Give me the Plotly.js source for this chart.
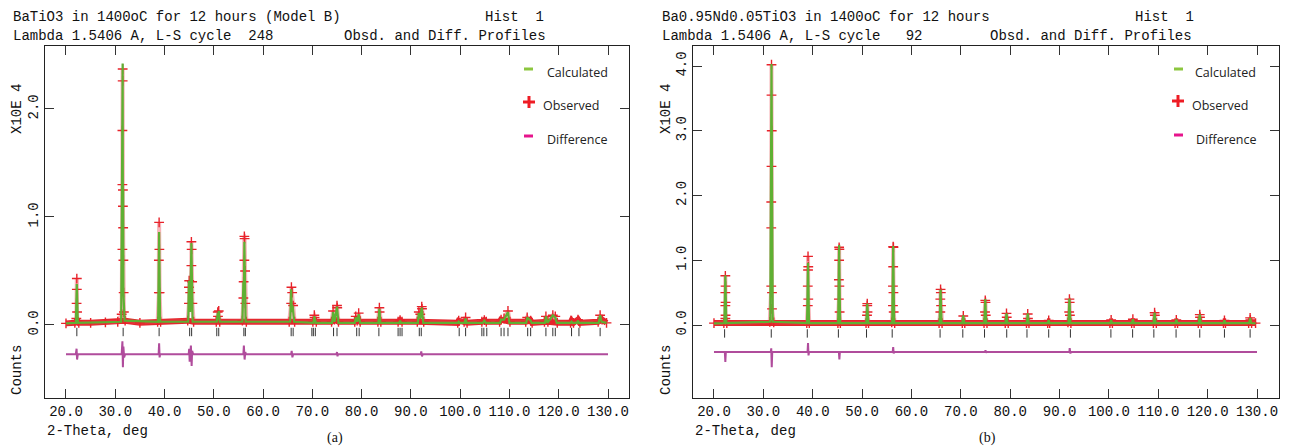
<!DOCTYPE html>
<html><head><meta charset="utf-8">
<script src="https://cdn.plot.ly/plotly-3.0.1.min.js"></script>
<style>html,body{margin:0;padding:0;background:#fff}#chart{width:1292px;height:447px}</style>
</head><body><div id="chart"></div>
<script>
// ---------- Panel (a): BaTiO3 ----------
const xTicks = [20,30,40,50,60,70,80,90,100,110,120,130];
const xTickText = ['20.0','30.0','40.0','50.0','60.0','70.0','80.0','90.0','100.0','110.0','120.0','130.0'];
const yTicksA = [0,1,2];
const yTickTextA = ['0.0','1.0','2.0'];
const yTicksB = [0,1,2,3,4];
const yTickTextB = ['0.0','1.0','2.0','3.0','4.0'];

const obsX_a = [20.0,21.8, 22.1,22.15,22.2,22.2,22.25,22.3, 22.6,25.0,28.0,30.5,
  31.3,31.45,31.45,31.45,31.5,31.5,31.55,31.55,31.6,31.65,31.7,31.75,32.0, 35.0,
  38.6,38.85,38.85,38.9,38.95,39.0,39.2,
  44.7,44.95,44.95,45.0,45.2,45.45,45.45,45.5,45.6,45.65,45.9,
  50.5,50.8,50.85,51.0,51.2,
  55.8,56.0,56.05,56.2,56.2,56.25,56.35,56.4,56.6,
  65.3,65.7,65.75,65.9,66.1,66.4,
  70.1,70.4,70.45,70.8,
  73.9,74.2,74.5,75.0,75.05,75.3,
  78.6,78.8,79.1,79.4,79.7,
  83.3,83.6,83.65,83.9,
  87.4,87.8,88.2,
  91.3,91.6,91.9,92.2,92.25,92.6,
  99.5,99.7,100.8,101.1,101.4,
  104.4,104.9,105.3,
  108.0,108.3,108.9,109.7,110.1,
  113.3,113.6,114.3,114.6,
  117.1,117.4,117.8,118.8,119.3,119.7,
  122.4,122.6,123.0,123.9,124.3,
  128.0,128.4,128.8,129.7];
const obsY_a = [0.015,0.02, 0.06,0.2,0.43,0.33,0.12,0.04, 0.02,0.02,0.025,0.03,
  0.1,0.7,1.3,1.8,2.37,2.26,1.25,1.1,0.9,0.6,0.3,0.12,0.04, 0.02,
  0.03,0.3,0.6,0.95,0.7,0.3,0.03,
  0.04,0.2,0.35,0.41,0.3,0.55,0.77,0.7,0.4,0.2,0.03,
  0.03,0.12,0.08,0.13,0.03,
  0.04,0.25,0.4,0.6,0.82,0.8,0.5,0.2,0.03,
  0.03,0.2,0.35,0.3,0.18,0.03,
  0.03,0.09,0.07,0.03,
  0.03,0.13,0.05,0.18,0.16,0.03,
  0.03,0.08,0.04,0.11,0.03,
  0.03,0.16,0.12,0.03,
  0.03,0.045,0.03,
  0.03,0.12,0.1,0.17,0.15,0.03,
  0.02,0.04,0.03,0.07,0.02,
  0.03,0.045,0.03,
  0.03,0.05,0.06,0.13,0.03,
  0.03,0.07,0.04,0.02,
  0.03,0.08,0.03,0.09,0.08,0.02,
  0.02,0.04,0.02,0.05,0.02,
  0.03,0.09,0.05,0.02];

const calcX_a = [20.0,22.0,22.2,22.4,
  31.2,31.5,31.55,31.6,31.65,31.9,
  38.7,38.9,39.1,
  44.8,44.95,45.2,45.45,45.7,
  50.6,50.8,50.9,51.0,51.2,
  55.8,56.0,56.1,56.2,56.45,
  65.5,65.7,65.85,66.0,66.3,
  70.2,70.4,70.7,
  74.0,74.2,74.5,75.0,75.3,
  78.6,78.8,79.1,79.4,79.7,
  83.4,83.6,83.8,
  87.6,87.8,88.0,
  91.4,91.6,91.9,92.2,92.5,
  99.5,99.7,99.9,100.9,101.1,101.3,
  104.6,104.9,105.2,
  108.1,108.3,108.9,109.7,110.0,
  113.4,113.6,114.3,114.5,
  117.2,117.4,117.7,118.8,119.3,119.6,
  122.4,122.6,122.8,123.7,123.9,124.1,
  128.1,128.4,128.7,129.7];
const calcY_a = [0.015,0.02,0.38,0.02,
  0.03,2.42,0.9,1.26,0.3,0.04,
  0.03,0.86,0.03,
  0.03,0.41,0.12,0.76,0.03,
  0.03,0.11,0.06,0.13,0.03,
  0.03,0.40,0.25,0.77,0.03,
  0.03,0.33,0.12,0.18,0.03,
  0.02,0.08,0.02,
  0.02,0.12,0.03,0.17,0.02,
  0.02,0.07,0.03,0.10,0.02,
  0.02,0.15,0.02,
  0.02,0.04,0.02,
  0.02,0.11,0.06,0.16,0.02,
  0.02,0.03,0.02,0.02,0.06,0.02,
  0.02,0.04,0.02,
  0.02,0.05,0.05,0.12,0.02,
  0.02,0.07,0.04,0.02,
  0.02,0.08,0.02,0.09,0.07,0.02,
  0.02,0.03,0.02,0.02,0.04,0.02,
  0.02,0.09,0.03,0.02];

const diffX_a = [20.0,22.0,22.15,22.25,22.4,31.3,31.45,31.55,31.65,31.8,32.0,
  38.8,38.9,39.0,39.1,44.9,45.0,45.1,45.35,45.5,45.6,45.8,
  56.0,56.1,56.25,56.4,56.5,65.7,65.8,65.95,66.1,74.9,75.0,75.1,75.2,
  92.0,92.1,92.25,92.4,130.0];
const diffY_a = [-0.27,-0.27,-0.22,-0.32,-0.27,-0.27,-0.15,-0.39,-0.2,-0.3,-0.27,
  -0.27,-0.17,-0.3,-0.27,-0.27,-0.22,-0.34,-0.19,-0.38,-0.24,-0.27,
  -0.27,-0.19,-0.32,-0.25,-0.27,-0.27,-0.24,-0.3,-0.27,-0.27,-0.25,-0.29,-0.27,
  -0.27,-0.245,-0.29,-0.27,-0.27];

const reflA = [22.2,31.6,38.9,45.1,45.5,50.6,51.0,56.1,56.4,65.7,66.1,69.9,70.2,70.6,
  74.3,75.0,79.0,79.5,83.5,87.4,87.8,88.2,91.7,92.1,99.8,101.1,104.4,104.8,105.4,
  108.3,108.9,109.7,113.7,114.3,117.4,118.8,119.3,122.6,124.1,128.4];

// ---------- Panel (b): Ba0.95Nd0.05TiO3 ----------
const obsX_b = [20.0,22.0,
  22.3,22.3,22.3,22.3,22.35,22.35,22.35,22.6,
  31.3,31.6,31.6,31.6,31.65,31.65,31.65,31.7,31.75,31.75,32.1,
  38.8,39.0,39.0,39.05,39.05,39.1,39.1,39.3,
  45.1,45.3,45.3,45.35,45.35,45.4,45.4,45.45,45.6,
  50.8,51.0,51.05,51.05,51.1,51.3,
  56.0,56.25,56.25,56.3,56.3,56.35,56.35,56.4,56.6,
  65.6,65.85,65.85,65.9,65.95,66.0,66.2,
  70.3,70.5,70.8,
  74.7,74.9,74.95,75.0,75.05,75.3,
  79.0,79.25,79.3,79.6,
  83.3,83.55,83.6,83.8,
  87.6,87.8,88.0,
  91.7,91.95,92.0,92.05,92.1,92.3,
  100.2,100.45,100.7,
  104.6,104.85,105.1,
  109.0,109.25,109.3,109.6,
  113.4,113.65,113.9,
  118.1,118.4,118.45,118.7,
  123.2,123.4,123.6,
  128.3,128.6,128.65,128.9,129.7];
const obsY_b = [0.03,0.03,
  0.1,0.3,0.5,0.76,0.6,0.35,0.15,0.03,
  0.05,0.6,1.5,1.9,2.45,3.55,4.02,3.0,0.5,0.25,0.04,
  0.03,0.3,0.6,0.85,1.06,0.9,0.4,0.03,
  0.03,0.4,0.7,1.0,1.2,1.17,0.6,0.2,0.03,
  0.03,0.15,0.3,0.33,0.2,0.03,
  0.04,0.3,0.6,0.9,1.21,1.2,0.5,0.2,0.03,
  0.03,0.2,0.4,0.55,0.5,0.3,0.03,
  0.03,0.14,0.03,
  0.03,0.2,0.38,0.35,0.15,0.03,
  0.03,0.18,0.12,0.03,
  0.03,0.17,0.1,0.03,
  0.03,0.07,0.03,
  0.04,0.2,0.4,0.35,0.15,0.03,
  0.03,0.08,0.03,
  0.03,0.09,0.03,
  0.03,0.19,0.15,0.03,
  0.03,0.08,0.03,
  0.03,0.16,0.12,0.03,
  0.03,0.07,0.03,
  0.03,0.11,0.08,0.03,0.03];

const calcX_b = [20.0,22.1,22.3,22.5,
  31.4,31.65,31.9,
  38.85,39.05,39.25,
  45.15,45.35,45.55,
  50.85,51.05,51.25,
  56.1,56.3,56.5,
  65.7,65.9,66.1,
  70.3,70.5,70.7,
  74.75,74.95,75.15,
  79.05,79.25,79.45,
  83.35,83.55,83.75,
  87.6,87.8,88.0,
  91.8,92.0,92.2,
  100.25,100.45,100.65,
  104.65,104.85,105.05,
  109.05,109.25,109.45,
  113.45,113.65,113.85,
  118.2,118.4,118.6,
  123.2,123.4,123.6,
  128.4,128.6,128.8,129.7];
const calcY_b = [0.025,0.03,0.77,0.03,
  0.05,4.03,0.05,
  0.03,0.96,0.03,
  0.03,1.235,0.03,
  0.03,0.33,0.03,
  0.03,1.22,0.03,
  0.03,0.55,0.03,
  0.03,0.15,0.03,
  0.03,0.40,0.03,
  0.03,0.18,0.03,
  0.03,0.18,0.03,
  0.03,0.075,0.03,
  0.03,0.41,0.03,
  0.03,0.075,0.03,
  0.03,0.09,0.03,
  0.03,0.19,0.03,
  0.03,0.085,0.03,
  0.03,0.165,0.03,
  0.03,0.07,0.03,
  0.03,0.11,0.03,0.025];

const diffX_b = [20.0,22.2,22.3,22.4,31.5,31.6,31.7,31.8,38.95,39.05,39.15,39.25,
  45.3,45.4,45.5,56.2,56.3,56.4,56.5,74.9,75.0,75.1,75.2,92.0,92.05,92.2,92.3,130.0];
const diffY_b = [-0.417,-0.417,-0.57,-0.417,-0.417,-0.36,-0.65,-0.417,-0.417,-0.28,-0.47,-0.417,
  -0.417,-0.53,-0.417,-0.417,-0.34,-0.44,-0.417,-0.417,-0.39,-0.43,-0.417,-0.417,-0.355,-0.44,-0.417,-0.417];

const reflB = [22.15,31.6,38.9,45.2,50.9,56.1,65.8,70.4,74.8,79.3,83.4,87.8,92.2,
  100.4,104.8,109.1,113.6,118.4,123.4,128.6];

// ---------- drawing ----------
const W = 1292, H = 447;
const px = v => v / W;
const py = v => 1 - v / H;
const MONO = 'Liberation Mono, DejaVu Sans Mono, monospace';
const SERIF = 'Liberation Serif, DejaVu Serif, serif';
const LEG = 'Open Sans, DejaVu Sans, sans-serif';
const RED = '#e3262b', GREEN = '#5fb033', DIFF = '#b04c9c';

function panelTraces(xa, ya, ox, oy, cx, cy, dx, dy, refl, reflY) {
  // background band = the low-lying observed points only
  const bx = ox.filter((_, i) => oy[i] < 0.06);
  const by = oy.filter(v => v < 0.06);
  return [
    {x: bx, y: by, xaxis: xa, yaxis: ya, type: 'scatter', mode: 'lines',
     line: {color: RED, width: 6}, hoverinfo: 'skip', showlegend: false},
    {x: ox, y: oy, xaxis: xa, yaxis: ya, type: 'scatter', mode: 'lines+markers',
     line: {color: 'rgba(235,70,80,0.4)', width: 4},
     marker: {symbol: 'cross-thin', size: 7, line: {color: '#e8222a', width: 1.4}},
     hoverinfo: 'skip', showlegend: false},
    {x: cx, y: cy, xaxis: xa, yaxis: ya, type: 'scatter', mode: 'lines',
     line: {color: GREEN, width: 2.2}, hoverinfo: 'skip', showlegend: false},
    {x: dx, y: dy, xaxis: xa, yaxis: ya, type: 'scatter', mode: 'lines',
     line: {color: DIFF, width: 2}, hoverinfo: 'skip', showlegend: false},
    {x: refl, y: refl.map(() => reflY), xaxis: xa, yaxis: ya, type: 'scatter', mode: 'markers',
     marker: {symbol: 'line-ns', size: 6, line: {color: '#333', width: 1}}, hoverinfo: 'skip', showlegend: false}
  ];
}

const data = [].concat(
  panelTraces('x', 'y', obsX_a, obsY_a, calcX_a, calcY_a, diffX_a, diffY_a, reflA, -0.065),
  panelTraces('x2', 'y2', obsX_b, obsY_b, calcX_b, calcY_b, diffX_b, diffY_b, reflB, -0.13)
);

function xax(l, r, range, anchor) {
  return {domain: [px(l), px(r)], range: range, anchor: anchor, showline: true, mirror: 'ticks',
    linecolor: '#222', linewidth: 1, ticks: 'inside', ticklen: 9, tickwidth: 1, tickcolor: '#333',
    tickvals: xTicks, ticktext: xTickText, tickfont: {family: MONO, size: 14, color: '#111'},
    showgrid: false, zeroline: false, fixedrange: true};
}
function yax(range, anchor, tv, tt) {
  return {domain: [py(398), py(46)], range: range, anchor: anchor, showline: true, mirror: 'ticks',
    linecolor: '#222', linewidth: 1, ticks: 'inside', ticklen: 9, tickwidth: 1, tickcolor: '#333',
    tickvals: tv, ticktext: tt, tickangle: -90, tickfont: {family: MONO, size: 14, color: '#111'},
    showgrid: false, zeroline: false, fixedrange: true};
}

function txt(text, x, y, opts) {
  return Object.assign({text: text, x: px(x), y: py(y), xref: 'paper', yref: 'paper',
    showarrow: false, xanchor: 'left', yanchor: 'middle',
    font: {family: MONO, size: 14, color: '#111'}}, opts || {});
}

const annotations = [
  txt('BaTiO3 in 1400oC for 12 hours (Model B)', 11, 17),
  txt('Hist  1', 546, 17, {xanchor: 'right'}),
  txt('Lambda 1.5406 A, L-S cycle  248', 11, 36),
  txt('Obsd. and Diff. Profiles', 548, 36, {xanchor: 'right'}),
  txt('Ba0.95Nd0.05TiO3 in 1400oC for 12 hours', 660, 17),
  txt('Hist  1', 1196, 17, {xanchor: 'right'}),
  txt('Lambda 1.5406 A, L-S cycle   92', 660, 36),
  txt('Obsd. and Diff. Profiles', 1194, 36, {xanchor: 'right'}),
  txt('X10E 4', 17, 109, {textangle: -90, xanchor: 'center'}),
  txt('Counts', 17, 370, {textangle: -90, xanchor: 'center'}),
  txt('X10E 4', 666, 109, {textangle: -90, xanchor: 'center'}),
  txt('Counts', 666, 370, {textangle: -90, xanchor: 'center'}),
  txt('2-Theta, deg', 45, 431),
  txt('2-Theta, deg', 693, 431),
  txt('(a)', 335, 438, {xanchor: 'center', font: {family: SERIF, size: 14, color: '#111'}}),
  txt('(b)', 988, 438, {xanchor: 'center', font: {family: SERIF, size: 14, color: '#111'}}),
  txt('Calculated', 545, 72, {font: {family: LEG, size: 12.5, color: '#222'}}),
  txt('Observed', 541, 105, {font: {family: LEG, size: 12.5, color: '#222'}}),
  txt('Difference', 545, 139, {font: {family: LEG, size: 12.5, color: '#222'}}),
  txt('Calculated', 1193, 72, {font: {family: LEG, size: 12.5, color: '#222'}}),
  txt('Observed', 1190, 105, {font: {family: LEG, size: 12.5, color: '#222'}}),
  txt('Difference', 1194, 139, {font: {family: LEG, size: 12.5, color: '#222'}})
];

function seg(x0, y0, x1, y1, color, w) {
  return {type: 'line', xref: 'paper', yref: 'paper', x0: px(x0), y0: py(y0), x1: px(x1), y1: py(y1),
    line: {color: color, width: w}};
}
const shapes = [
  seg(524, 69, 533, 69, '#8cc63f', 3),
  seg(523, 102, 535, 102, '#ee1c24', 3), seg(529, 96, 529, 108, '#ee1c24', 3),
  seg(524, 136, 533, 136, '#e6148c', 3),
  seg(1174, 69, 1183, 69, '#8cc63f', 3),
  seg(1172, 101, 1184, 101, '#ee1c24', 3), seg(1178, 95, 1178, 107, '#ee1c24', 3),
  seg(1174, 135, 1183, 135, '#e6148c', 3)
];

const layout = {
  width: W, height: H, margin: {l: 0, r: 0, t: 0, b: 0},
  paper_bgcolor: '#fff', plot_bgcolor: '#fff', showlegend: false,
  xaxis: xax(45, 629, [15.74, 134.26], 'y'),
  yaxis: yax([-0.676, 2.583], 'x', yTicksA, yTickTextA),
  xaxis2: xax(693, 1279, [15.75, 134.45], 'y2'),
  yaxis2: yax([-1.127, 4.309], 'x2', yTicksB, yTickTextB),
  annotations: annotations, shapes: shapes
};

Plotly.newPlot('chart', data, layout, {staticPlot: true, displayModeBar: false});
</script></body></html>
